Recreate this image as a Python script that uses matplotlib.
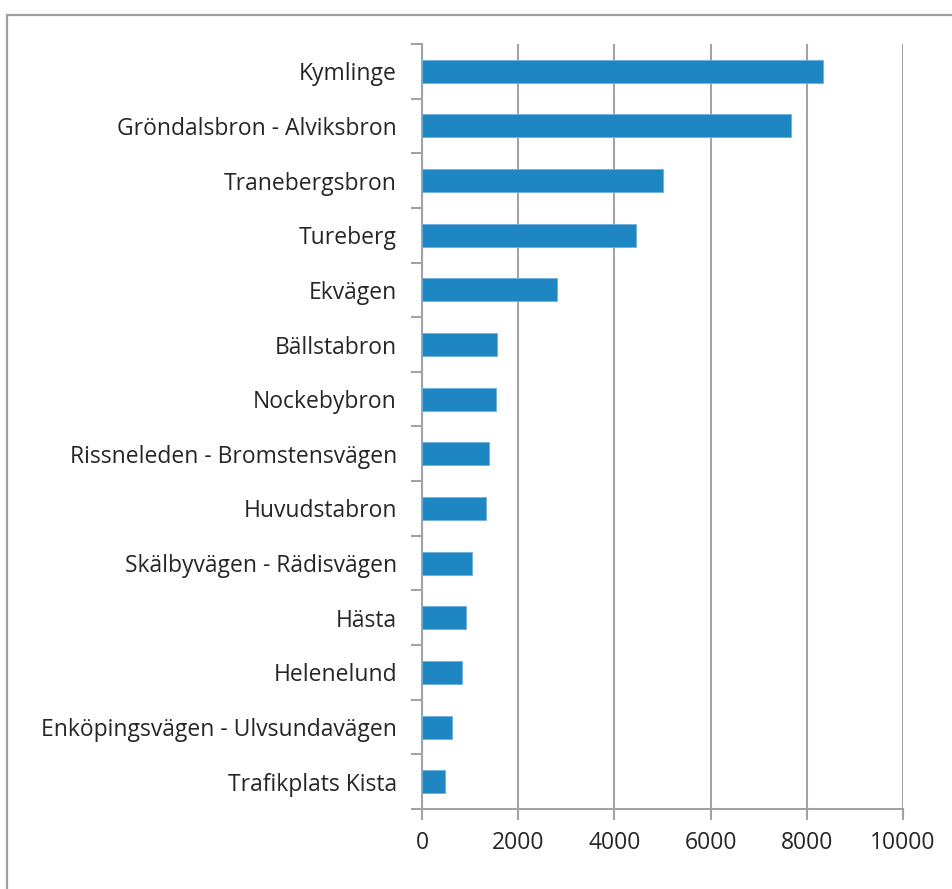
import matplotlib.pyplot as plt
import matplotlib.patches as patches
import numpy as np

plt.rcParams['font.family'] = ['Open Sans', 'DejaVu Sans']

# data
places = ['Kymlinge', 'Gröndalsbron - Alviksbron', 'Tranebergsbron', 'Tureberg',
          'Ekvägen', 'Bällstabron', 'Nockebybron', 'Rissneleden - Bromstensvägen',
          'Huvudstabron', 'Skälbyvägen - Rädisvägen', 'Hästa', 'Helenelund',
          'Enköpingsvägen - Ulvsundavägen', 'Trafikplats Kista']
values = [8340, 7670, 5020, 4450, 2800, 1557, 1529, 1391,
          1322, 1038, 913, 830, 616, 471]
xticks = [0, 2000, 4000, 6000, 8000, 10000]

bar_color = '#1F86C4'
grid_color = '#A3A3A6'
text_color = '#262626'

fig = plt.figure(figsize=(9.53, 8.89), dpi=100)
ax = fig.add_axes([0.4428, 0.0900, 0.5047, 0.8605])

y = np.arange(len(places))
ax.barh(y, values, height=0.42, color=bar_color, edgecolor='#6FB0DD', linewidth=0.6, zorder=3)

ax.set_xlim(0, 10000)
ax.set_ylim(len(places) - 0.5, -0.5)
ax.set_xticks(xticks)
ax.set_xticklabels([str(v) for v in xticks], fontsize=16.5, color=text_color)
ax.set_yticks(y)
ax.set_yticklabels(places, fontsize=16.5, color=text_color)
ax.set_yticks(np.arange(len(places) + 1) - 0.5, minor=True)

ax.tick_params(axis='y', which='major', length=0, pad=18)
ax.tick_params(axis='y', which='minor', length=8, width=1.5, color=grid_color, direction='out')
ax.tick_params(axis='x', which='major', length=8, width=1.5, color=grid_color, direction='out', pad=8)

ax.grid(axis='x', color=grid_color, linewidth=1.5, zorder=0)
ax.set_axisbelow(True)
for s in ['top', 'right']:
    ax.spines[s].set_visible(False)
for s in ['left', 'bottom']:
    ax.spines[s].set_color(grid_color)
    ax.spines[s].set_linewidth(1.5)

# outer chart border (cropped at right and bottom)
W, H = 953, 889
border = patches.Rectangle((7 / W, -0.1), 1.2, 1 - 15 / H + 0.1, transform=fig.transFigure,
                           fill=False, edgecolor='#A0A0A0', linewidth=1.6)
fig.patches.append(border)

fig.savefig('out.png', dpi=100)
